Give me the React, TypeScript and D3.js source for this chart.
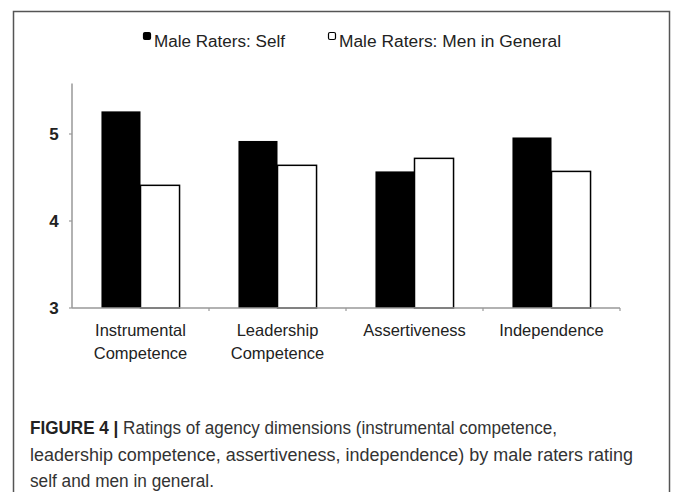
import React, { useEffect, useRef } from 'react';
import * as d3 from 'd3';

const categories = [
  ['Instrumental', 'Competence'],
  ['Leadership', 'Competence'],
  ['Assertiveness'],
  ['Independence'],
];
const seriesNames = ['Male Raters: Self', 'Male Raters: Men in General'];
const selfValues = [5.26, 4.92, 4.57, 4.96];
const generalValues = [4.41, 4.64, 4.72, 4.57];
const yTicks = [3, 4, 5];
const yAxisTop = 5.58;

const captionLines = [
  ['FIGURE 4 | ', 'Ratings of agency dimensions (instrumental competence,'],
  ['', 'leadership competence, assertiveness, independence) by male raters rating'],
  ['', 'self and men in general.'],
];
const captionWidths = [527, 603, 184];
const legendWidths = [131, 222];

const App = () => {
  const ref = useRef<SVGSVGElement | null>(null);

  useEffect(() => {
    if (!ref.current) return;
    const svg = d3.select(ref.current);
    svg.selectAll('*').remove();

    const font = "'Liberation Sans', Arial, Helvetica, sans-serif";

    // frame around the figure
    svg
      .append('rect')
      .attr('x', 13.5)
      .attr('y', 11.5)
      .attr('width', 656)
      .attr('height', 520)
      .attr('fill', '#fff')
      .attr('stroke', '#555')
      .attr('stroke-width', 1.5);

    const left = 72;
    const right = 620;
    const bottom = 308;

    const keys = categories.map((c) => c.join(' '));
    const x = d3
      .scaleBand()
      .domain(keys)
      .range([left, right])
      .paddingInner(0.43)
      .paddingOuter(0.215);
    const xSub = d3.scaleBand().domain(['self', 'general']).range([0, x.bandwidth()]);
    const y = d3.scaleLinear().domain([3, 5]).range([bottom, 134]);

    // axes
    svg
      .append('line')
      .attr('x1', left)
      .attr('x2', left)
      .attr('y1', y(3))
      .attr('y2', y(yAxisTop))
      .attr('stroke', '#999')
      .attr('stroke-width', 1.5);

    const yAxis = svg.append('g');
    yTicks.forEach((t) => {
      yAxis
        .append('line')
        .attr('x1', left - 3)
        .attr('x2', left)
        .attr('y1', y(t))
        .attr('y2', y(t))
        .attr('stroke', '#999')
        .attr('stroke-width', 1.2);
      yAxis
        .append('text')
        .attr('x', 54)
        .attr('y', y(t) + 6)
        .attr('text-anchor', 'middle')
        .attr('font-family', font)
        .attr('font-size', 17)
        .attr('font-weight', 'bold')
        .attr('fill', '#222')
        .text(String(t));
    });

    // bars
    const g = svg.append('g');
    keys.forEach((k, i) => {
      const x0 = x(k) as number;
      g.append('rect')
        .attr('x', x0 + (xSub('self') as number))
        .attr('y', y(selfValues[i]))
        .attr('width', xSub.bandwidth())
        .attr('height', y(3) - y(selfValues[i]))
        .attr('fill', '#000');
      g.append('rect')
        .attr('x', x0 + (xSub('general') as number))
        .attr('y', y(generalValues[i]))
        .attr('width', xSub.bandwidth())
        .attr('height', y(3) - y(generalValues[i]))
        .attr('fill', '#fff')
        .attr('stroke', '#000')
        .attr('stroke-width', 1.5);
    });

    // x axis line and category ticks
    svg
      .append('line')
      .attr('x1', left)
      .attr('x2', right)
      .attr('y1', bottom)
      .attr('y2', bottom)
      .attr('stroke', '#999')
      .attr('stroke-width', 1.5);
    d3.range(1, keys.length + 1).forEach((i) => {
      const tx = left + x.step() * i;
      svg
        .append('line')
        .attr('x1', tx)
        .attr('x2', tx)
        .attr('y1', bottom)
        .attr('y2', bottom + 3)
        .attr('stroke', '#999')
        .attr('stroke-width', 1.2);
    });

    // category labels
    categories.forEach((lines, i) => {
      const cx = (x(keys[i]) as number) + x.bandwidth() / 2;
      lines.forEach((line, j) => {
        svg
          .append('text')
          .attr('x', cx)
          .attr('y', 336 + j * 23)
          .attr('text-anchor', 'middle')
          .attr('font-family', font)
          .attr('font-size', 16.5)
          .attr('fill', '#222')
          .text(line);
      });
    });

    // legend
    const legendX = [143, 328];
    seriesNames.forEach((name, i) => {
      svg
        .append('rect')
        .attr('x', legendX[i] + 0.5)
        .attr('y', 32.5)
        .attr('width', 7)
        .attr('height', 7)
        .attr('rx', 1.5)
        .attr('fill', i === 0 ? '#000' : '#fff')
        .attr('stroke', '#000')
        .attr('stroke-width', 1.2);
      svg
        .append('text')
        .attr('x', legendX[i] + 11)
        .attr('y', 47)
        .attr('font-family', font)
        .attr('font-size', 16)
        .attr('fill', '#222')
        .attr('textLength', legendWidths[i])
        .attr('lengthAdjust', 'spacingAndGlyphs')
        .text(name);
    });

    // caption
    captionLines.forEach(([bold, rest], i) => {
      const t = svg
        .append('text')
        .attr('x', 30)
        .attr('y', 434 + i * 26.5)
        .attr('font-family', font)
        .attr('font-size', 17.5)
        .attr('fill', '#333')
        .attr('textLength', captionWidths[i])
        .attr('lengthAdjust', 'spacingAndGlyphs');
      if (bold) t.append('tspan').attr('font-weight', 'bold').attr('fill', '#222').text(bold);
      t.append('tspan').text(rest);
    });
  }, []);

  return (
    <svg
      ref={ref}
      width={673}
      height={492}
      style={{ position: 'absolute', left: 0, top: 0, background: '#fff' }}
    />
  );
};

export default App;
